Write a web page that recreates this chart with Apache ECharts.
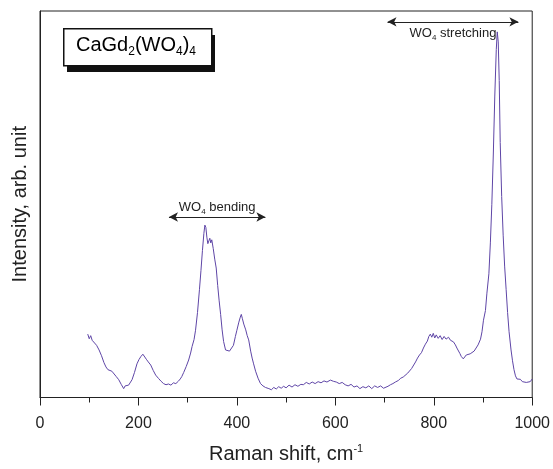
<!DOCTYPE html>
<html>
<head>
<meta charset="utf-8">
<script src="https://cdn.jsdelivr.net/npm/echarts@6/dist/echarts.min.js"></script>
<style>
  html, body { margin: 0; padding: 0; background: #fff; }
  #chart { width: 553px; height: 469px; }
</style>
</head>
<body>
<div id="chart"></div>
<script>
// Raman shift (cm-1) and intensity
var shift = [97, 100, 103, 106, 110, 115, 120, 125, 130, 134, 138, 142, 146, 150, 155, 160, 165, 170, 173, 176,
  180, 184, 187, 192, 197, 201, 205, 209, 212, 216, 220, 225, 230, 235, 241, 246, 251, 256, 261, 266,
  271, 276, 281, 285, 288, 292, 297, 302, 306, 309, 313, 316, 320, 324, 327, 330, 333, 335, 337, 339,
  341, 343, 345, 347, 349, 352, 355, 358, 361, 364, 367, 370, 373, 377, 381, 385, 389, 393, 397, 400,
  404, 407, 409, 411, 414, 418, 421, 424, 428, 431, 434, 438, 443, 448, 453, 458, 465, 470, 475, 480,
  485, 490, 495, 500, 506, 512, 518, 524, 530, 535, 541, 547, 553, 559, 565, 571, 577, 583, 590, 596,
  602, 608, 614, 620, 626, 632, 638, 644, 650, 656, 662, 668, 674, 680, 686, 692, 698, 702, 707, 712,
  717, 722, 728, 733, 738, 742, 747, 751, 755, 759, 763, 767, 771, 775, 779, 783, 787, 790, 793, 796,
  799, 802, 805, 809, 813, 817, 821, 825, 830, 834, 837, 840, 844, 847, 850, 853, 856, 860, 863, 866,
  870, 874, 878, 882, 886, 890, 895, 898, 901, 905, 908, 912, 915, 918, 921, 924, 927, 929, 931, 933,
  935, 938, 941, 944, 947, 950, 953, 957, 960, 963, 966, 969, 972, 976, 980, 984, 988, 992, 996, 1000];
var intensity = [16.4, 15.2, 16.0, 14.8, 14.9, 13.5, 12.3, 10.8, 9.0, 7.9, 7.2, 7.6, 6.8, 6.7, 5.4, 4.6, 3.4, 2.3, 3.0, 2.8,
  3.2, 4.0, 4.6, 6.5, 8.7, 9.8, 10.6, 11.2, 10.8, 9.9, 9.2, 8.4, 7.0, 5.8, 4.9, 4.2, 3.6, 3.3, 3.5, 3.2,
  3.8, 3.6, 4.2, 4.8, 5.4, 6.5, 8.0, 9.7, 11.5, 13.2, 15.0, 17.4, 22, 28, 32.8, 38, 42.5, 44.6, 44.0, 41.5,
  39.8, 40.5, 41.2, 40.0, 40.8, 38.5, 35.8, 33.5, 29, 25, 21.5, 17.5, 14.5, 12.3, 11.8, 12.0, 12.3, 13.5, 15.8, 17.4,
  19.5, 20.8, 21.5, 20.5, 19.0, 17.5, 16.0, 14.9, 12.0, 10.2, 8.7, 6.8, 5.0, 3.6, 3.0, 2.6, 2.3, 2.0, 2.6, 2.2,
  2.8, 2.4, 2.9, 2.5, 3.2, 2.7, 3.3, 2.9, 3.4, 3.3, 3.9, 3.5, 4.0, 3.6, 4.1, 3.8, 4.3, 4.0, 4.5, 4.2,
  4.0, 3.6, 3.9, 3.3, 3.0, 3.4, 2.7, 3.0, 2.3, 2.8, 2.5, 3.0, 2.3, 3.0, 2.6, 3.0, 2.4, 2.1, 2.9, 3.3,
  3.6, 4.0, 4.4, 5.0, 5.3, 5.6, 6.3, 6.8, 7.5, 8.0, 9.2, 10.2, 11.0, 11.6, 12.8, 13.8, 14.6, 15.8, 16.4, 15.6,
  16.6, 15.4, 16.2, 15.3, 16.0, 15.0, 15.8, 15.1, 15.6, 14.8, 15.2, 14.4, 13.6, 12.8, 12.3, 11.4, 10.6, 10.0, 10.5, 11.0,
  10.6, 11.3, 11.8, 12.0, 12.5, 13.6, 15.1, 17.0, 20.0, 22.5, 27, 32, 40, 50, 63, 78, 90, 94.6, 92, 82,
  66, 52, 42, 34, 28, 22, 17, 12.3, 9.5, 7.2, 5.6, 4.8, 4.4, 4.7, 4.1, 4.5, 3.9, 4.4, 4.1, 4.8];
var xTicks = [0, 200, 400, 600, 800, 1000];
// annotation arrows in data units: [x start, x end, y]
var bendingArrow = [262, 458, 46.7];
var stretchArrow = [706, 972, 97.2];

var font = '"Liberation Sans", Arial, sans-serif';
var chart = echarts.init(document.getElementById('chart'));

var points = shift.map(function (x, i) { return [x, intensity[i]]; });

// rich styles: normal text + lowered subscript
function subRich(size, subSize, color) {
  return {
    a: { fontSize: size, fontFamily: font, color: color, lineHeight: size, verticalAlign: 'top' },
    s: { fontSize: subSize, fontFamily: font, color: color, lineHeight: subSize, verticalAlign: 'top',
         padding: [Math.round(size * 0.55), 0, 0, 0] }
  };
}

chart.setOption({
  animation: false,
  grid: {
    left: 40, right: 20, top: 11, bottom: 69,
    show: true, borderColor: '#222', borderWidth: 1
  },
  xAxis: {
    type: 'value',
    min: xTicks[0], max: xTicks[xTicks.length - 1], interval: 200,
    name: '{a|Raman shift, cm}{s|-1}',
    nameLocation: 'middle', nameGap: 46,
    nameTextStyle: {
      rich: {
        a: { fontSize: 20, fontFamily: font, color: '#222' },
        s: { fontSize: 11, fontFamily: font, color: '#222', verticalAlign: 'top', padding: [0, 0, 10, 0] }
      }
    },
    axisLine: { lineStyle: { color: '#222', width: 1 } },
    axisTick: { inside: false, length: 8, lineStyle: { color: '#222' } },
    minorTick: { show: true, splitNumber: 2, length: 5, lineStyle: { color: '#222' } },
    axisLabel: { fontSize: 16, fontFamily: font, color: '#222', margin: 18,
                 formatter: function (v) { return String(v); } },
    splitLine: { show: false }
  },
  yAxis: {
    type: 'value', min: 0, max: 100,
    name: 'Intensity, arb. unit',
    nameLocation: 'middle', nameGap: 10,
    nameTextStyle: { fontSize: 20, fontFamily: font, color: '#222' },
    axisLine: { show: true, lineStyle: { color: '#222', width: 1 } },
    axisTick: { show: false },
    axisLabel: { show: false },
    splitLine: { show: false }
  },
  series: [{
    type: 'line',
    data: points,
    showSymbol: false,
    lineStyle: { color: '#5e45a6', width: 1 },
    markLine: {
      silent: true,
      symbol: ['arrow', 'arrow'],
      symbolSize: [7, 9],
      lineStyle: { color: '#222', width: 1, type: 'solid' },
      data: [
        [
          { coord: [bendingArrow[0], bendingArrow[2]],
            label: { show: true, position: 'middle', distance: 3, formatter: '{a|WO}{s|4}{a| bending}', rich: subRich(13, 8, '#222') } },
          { coord: [bendingArrow[1], bendingArrow[2]] }
        ],
        [
          { coord: [stretchArrow[0], stretchArrow[2]],
            label: { show: true, position: 'insideMiddleBottom', distance: 5, formatter: '{a|WO}{s|4}{a| stretching}', rich: subRich(13, 8, '#222') } },
          { coord: [stretchArrow[1], stretchArrow[2]] }
        ]
      ]
    }
  }],
  graphic: [
    { type: 'rect', left: 67, top: 35, shape: { width: 148, height: 37 }, style: { fill: '#111' } },
    { type: 'rect', left: 63, top: 28, shape: { width: 148, height: 37 }, style: { fill: '#fff', stroke: '#111', lineWidth: 1.5 } },
    {
      type: 'text', left: 76, top: 35,
      style: {
        text: '{a|CaGd}{s|2}{a|(WO}{s|4}{a|)}{s|4}',
        rich: subRich(20, 12, '#111')
      }
    }
  ]
});
</script>
</body>
</html>
